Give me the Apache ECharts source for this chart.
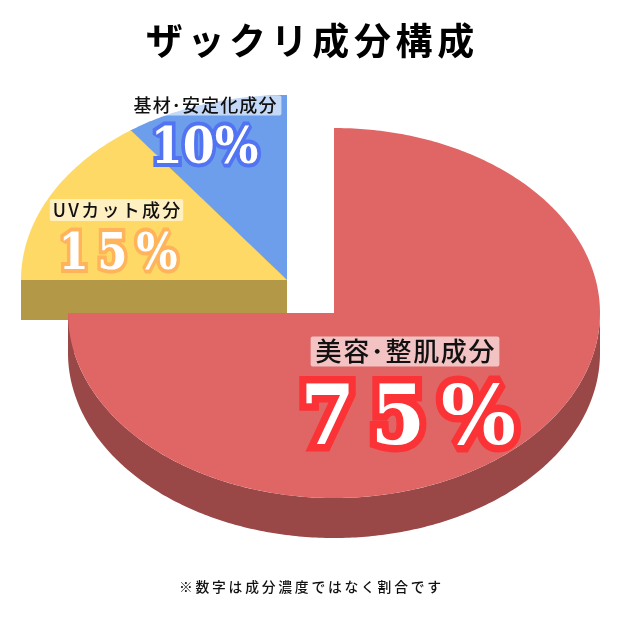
<!DOCTYPE html>
<html><head><meta charset="utf-8">
<style>html,body{margin:0;padding:0;background:#fff}#c{width:620px;height:620px}</style>
<script src="https://cdn.jsdelivr.net/npm/echarts@6/dist/echarts.min.js"></script>
</head><body><div id="c"></div>
<script>
const titleText = "ザックリ成分構成";
const footnote = "※数字は成分濃度ではなく割合です";
const categories = ["美容･整肌成分", "UVカット成分", "基材･安定化成分"];
const values = [75, 15, 10];
const topColors = ["#e06666", "#ffd966", "#6d9eeb"];
const sideColors = ["#9a4747", "#b29847", "#4c6ea4"];
const outlineColors = ["#fb3336", "#ffb45c", "#5273f2"];

const JP = '"Noto Sans CJK JP"', SERIF = '"DejaVu Serif"';
const HAIR = "\u200a", THIN = "\u2009";
const CX = 334, CY = 313, RX = 266, RY = 185, DEPTH = 40;
const explode = [[0, 0], [-47, -33], [-47, -33]];
const order = [20, 10, 0];
const labelStyle = [
  {x: 405, y: 351.5, size: 26, gap: HAIR, pad: [2, 5, 2, 5]},
  {x: 116.5, y: 210, size: 18, gap: HAIR + HAIR, pad: [2, 3, 2, 3]},
  {x: 205.5, y: 105.5, size: 18, gap: HAIR, pad: [1, 5, 1, 4]}
];
const pctStyle = [
  {x: 408, y: 422.5, size: 82, bw: 15, gap: HAIR + HAIR, sx: 0.96},
  {x: 118, y: 256, size: 50, bw: 8, gap: HAIR + HAIR, sx: 0.87},
  {x: 204.5, y: 150.5, size: 50, bw: 8, gap: "", sx: 0.92}
];
const spaced = (s, g) => Array.from(s).join(g);

function renderSlice(params, api) {
  const i = params.dataIndex;
  const total = values.reduce((a, b) => a + b, 0);
  let before = 0;
  for (let k = 0; k < i; k++) before += values[k];
  const a0 = before / total * 2 * Math.PI;
  const a1 = (before + api.value(0)) / total * 2 * Math.PI;
  const cx = CX + explode[i][0], cy = CY + explode[i][1];
  const at = a => [cx + RX * Math.sin(a), cy - RY * Math.cos(a)];
  const arc = (s, e) => {
    const n = Math.max(8, Math.round((e - s) * 80)), r = [];
    for (let k = 0; k <= n; k++) r.push(at(s + (e - s) * k / n));
    return r;
  };
  const down = p => [p[0], p[1] + DEPTH];
  const children = [];
  const side = pts => children.push({type: 'polygon', z2: order[i],
    shape: {points: pts.concat(pts.slice().reverse().map(down))},
    style: {fill: sideColors[i]}});
  side([[cx, cy], at(a0)]);
  side([[cx, cy], at(a1)]);
  const s = Math.max(a0, Math.PI / 2), e = Math.min(a1, Math.PI * 1.5);
  if (e > s) side(arc(s, e));
  children.push({type: 'polygon', z2: order[i] + 1,
    shape: {points: [[cx, cy]].concat(arc(a0, a1))}, style: {fill: topColors[i]}});
  const L = labelStyle[i], P = pctStyle[i];
  children.push({type: 'text', z2: 100, style: {
    x: L.x, y: L.y, text: spaced(categories[i], L.gap), align: 'center', verticalAlign: 'middle',
    font: `500 ${L.size}px ${JP}`, fill: '#111', backgroundColor: 'rgba(255,255,255,0.6)',
    padding: L.pad, borderRadius: 2}});
  children.push({type: 'text', z2: 101, x: P.x, y: P.y, scaleX: P.sx, style: {
    x: 0, y: 0, text: spaced(api.value(0) + '%', P.gap), align: 'center', verticalAlign: 'middle',
    font: `bold ${P.size}px ${SERIF}`, fill: '#fff', stroke: outlineColors[i], lineWidth: P.bw, lineJoin: 'miter'}});
  return {type: 'group', children};
}

const chart = echarts.init(document.getElementById('c'), null, {renderer: 'canvas'});
chart.setOption({
  animation: false,
  backgroundColor: '#fff',
  title: [
    {text: spaced(titleText, HAIR + HAIR), left: 'center', top: 14,
     textStyle: {fontFamily: JP, fontWeight: 'bold', fontSize: 37, color: '#000', lineHeight: 44}},
    {text: spaced(footnote, THIN), left: 'center', top: 572.5,
     textStyle: {fontFamily: JP, fontWeight: 500, fontSize: 13.8, color: '#111', lineHeight: 18}}
  ],
  series: [{type: 'custom', coordinateSystem: 'none', renderItem: renderSlice,
    data: values.map(v => [v]), silent: true}]
});
</script></body></html>
